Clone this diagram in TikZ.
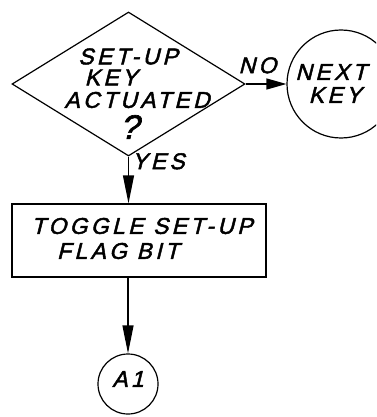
\documentclass[tikz,border=0pt]{standalone}
\usepackage{fontspec}
\usetikzlibrary{shapes.geometric}
\usetikzlibrary{arrows.meta}
\newfontfamily\handfont[FakeSlant=0.25,LetterSpace=15,FakeBold=2]{Liberation Sans}
\tikzset{%
    hand/.style={inner sep=0pt,font=\handfont\fontsize{22.8}{24}\selectfont}
}

\begin{document}
\begin{tikzpicture}[
                x=1pt, y=-1pt, line width=1.2pt,
                decision/.style={draw, diamond, inner sep=0pt, minimum width=233pt, minimum height=144pt},
                process/.style={draw, rectangle, inner sep=0pt, minimum width=254pt, minimum height=73pt},
                connector/.style={draw, circle, inner sep=0pt},
                flow/.style={-{Triangle[length=28pt,width=11pt]}}
            ]
            \useasboundingbox (0,0) rectangle (376,417);
            \clip (0,0) rectangle (376,417);

            \node[decision] (test) at (128.5,84){};
            \node[hand] (t1) at (128,56.5){SET-UP};
            \node[hand] (t2) at (111,77.5){KEY};
            \node[hand] (t3) at (137,100){ACTUATED};
            \node[hand,font=\handfont\fontsize{34}{34}\selectfont] (t4) at (129,127){?};

            \node[connector,minimum size=108pt] (next) at (341,84){};
            \node[hand] (n1) at (331,72){NEXT};
            \node[hand] (n2) at (335,95){KEY};

            \node[process] (toggle) at (139,240.5){};
            \node[hand] (g1) at (142,226){TOGGLE SET-UP};
            \node[hand] (g2) at (118,251){FLAG BIT};

            \node[connector,minimum size=60pt] (a1) at (128,384){};
            \node[hand] (a1txt) at (128,379){A1};

            \draw[-{Triangle[length=20pt,width=11pt]}] (test.east) -- node[hand,anchor=south,pos=0.29,yshift=10pt]{NO}(next.west);
            \draw[flow] (test.south) -- node[hand,anchor=west,pos=0.1,xshift=3pt]{YES}(test.south |- toggle.north);
            \draw[flow] (a1 |- toggle.south) -- (a1.north);
        \end{tikzpicture}
\end{document}
